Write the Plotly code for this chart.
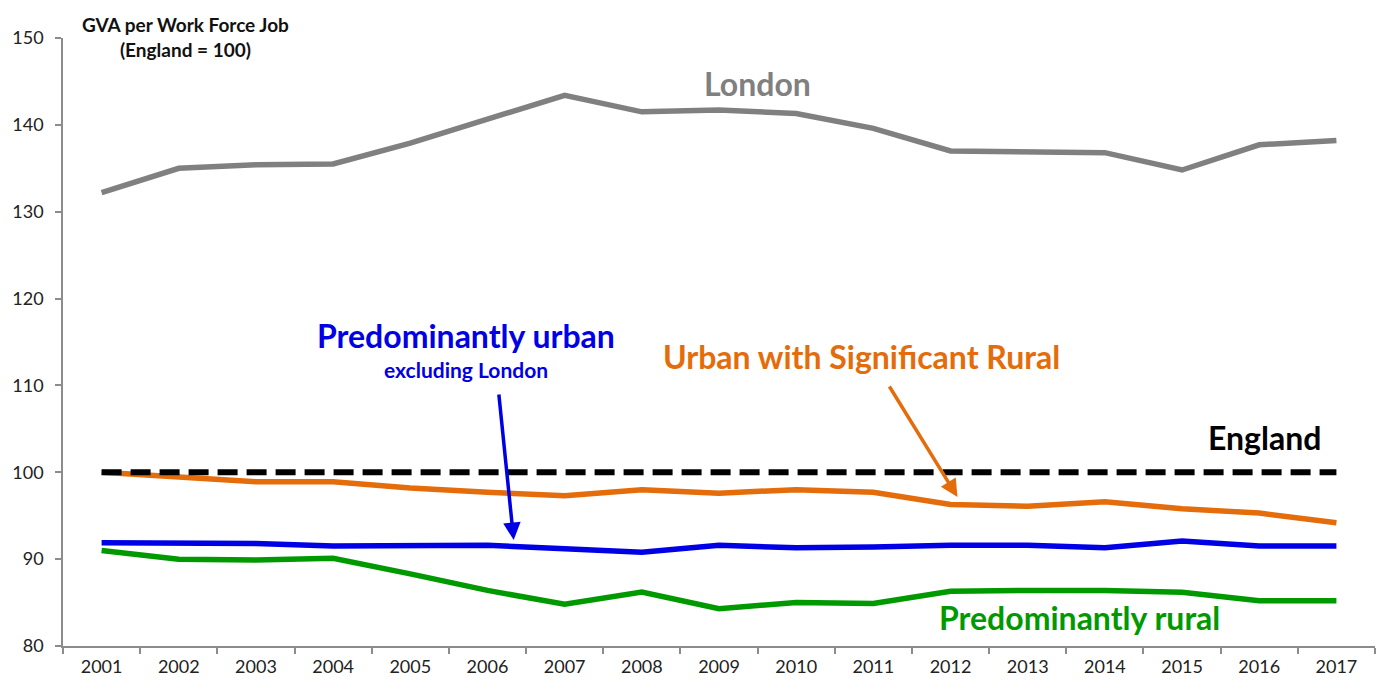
import plotly.graph_objects as go

years = [str(y) for y in range(2001, 2018)]
london = [132.2, 135.0, 135.4, 135.5, 137.9, 140.6, 143.4, 141.5, 141.7, 141.3, 139.6, 137.0, 136.9, 136.8, 134.8, 137.7, 138.2]
england = [100] * 17
urban_sig_rural = [100.0, 99.5, 98.9, 98.9, 98.2, 97.7, 97.3, 98.0, 97.6, 98.0, 97.7, 96.3, 96.1, 96.6, 95.8, 95.3, 94.2]
pred_urban = [91.9, 91.8, 91.8, 91.5, 91.5, 91.6, 91.2, 90.8, 91.6, 91.3, 91.4, 91.6, 91.6, 91.3, 92.1, 91.5, 91.5]
pred_rural = [91.0, 90.0, 89.9, 90.1, 88.3, 86.4, 84.8, 86.2, 84.3, 85.0, 84.9, 86.3, 86.4, 86.4, 86.2, 85.2, 85.2]

GRAY = "#808080"
ORANGE = "#E46C0A"
BLUE = "#0000E6"
GREEN = "#009A00"
FONT = "Lato"

fig = go.Figure()
fig.add_trace(go.Scatter(x=years, y=london, mode="lines", line=dict(color=GRAY, width=5.5), name="London"))
fig.add_trace(go.Scatter(x=years, y=urban_sig_rural, mode="lines", line=dict(color=ORANGE, width=5.5), name="Urban with Significant Rural"))
fig.add_trace(go.Scatter(x=years, y=pred_rural, mode="lines", line=dict(color=GREEN, width=5.5), name="Predominantly rural"))
fig.add_trace(go.Scatter(x=years, y=pred_urban, mode="lines", line=dict(color=BLUE, width=5.5), name="Predominantly urban"))
fig.add_trace(go.Scatter(x=years, y=england, mode="lines", line=dict(color="black", width=6, dash="20px,9px"), name="England"))

anns = [
    dict(x=0.093, y=1.002, xref="paper", yref="paper", xanchor="center", yanchor="middle",
         text="<b>GVA per Work Force Job<br>(England = 100)</b>",
         showarrow=False, font=dict(family=FONT, size=19, color="#111"), align="center"),
    dict(x=8.5, y=144.8, text="<b>London</b>", showarrow=False, font=dict(family=FONT, size=32, color=GRAY)),
    dict(x=4.72, y=115.7, text="<b>Predominantly urban</b>", showarrow=False, font=dict(family=FONT, size=32, color=BLUE)),
    dict(x=4.72, y=111.8, text="<b>excluding London</b>", showarrow=False, font=dict(family=FONT, size=21, color=BLUE)),
    dict(x=9.84, y=113.3, text="<b>Urban with Significant Rural</b>", showarrow=False, font=dict(family=FONT, size=32, color=ORANGE)),
    dict(x=15.07, y=104.0, text="<b>England</b>", showarrow=False, font=dict(family=FONT, size=32, color="black")),
    dict(x=12.67, y=83.3, text="<b>Predominantly rural</b>", showarrow=False, font=dict(family=FONT, size=32, color=GREEN)),
    dict(x=5.34, y=92.2, ax=-15, ay=-147, text="", showarrow=True, arrowhead=2, arrowsize=1, arrowwidth=3.5,
         arrowcolor=BLUE),
    dict(x=11.09, y=97.15, ax=-69, ay=-112, text="", showarrow=True, arrowhead=2, arrowsize=1, arrowwidth=3.5,
         arrowcolor=ORANGE),
]

fig.update_layout(
    width=1381, height=682,
    margin=dict(l=63, r=6, t=38, b=36),
    paper_bgcolor="white", plot_bgcolor="white",
    showlegend=False,
    annotations=anns,
    font=dict(family=FONT, size=19, color="#222"),
)
fig.update_xaxes(type="category", range=[-0.5, 16.5], showline=True, linecolor="#8c8c8c", linewidth=1.5, showgrid=False,
                 ticks="outside", tickson="boundaries", ticklen=6, tickcolor="#8c8c8c", tickwidth=1.5,
                 ticklabelstandoff=4,
                 tickfont=dict(family=FONT, size=18, color="#222"), zeroline=False)
fig.update_yaxes(range=[80, 150], dtick=10, showline=True, linecolor="#8c8c8c", linewidth=1.5, showgrid=False,
                 ticks="outside", ticklen=6, tickcolor="#8c8c8c", tickwidth=1.5,
                 ticklabelstandoff=8,
                 tickfont=dict(family=FONT, size=18, color="#222"), zeroline=False)

fig.write_html("out.html", config={"displayModeBar": False},
               post_script="document.body.style.margin='0px';document.body.style.overflow='hidden';")
